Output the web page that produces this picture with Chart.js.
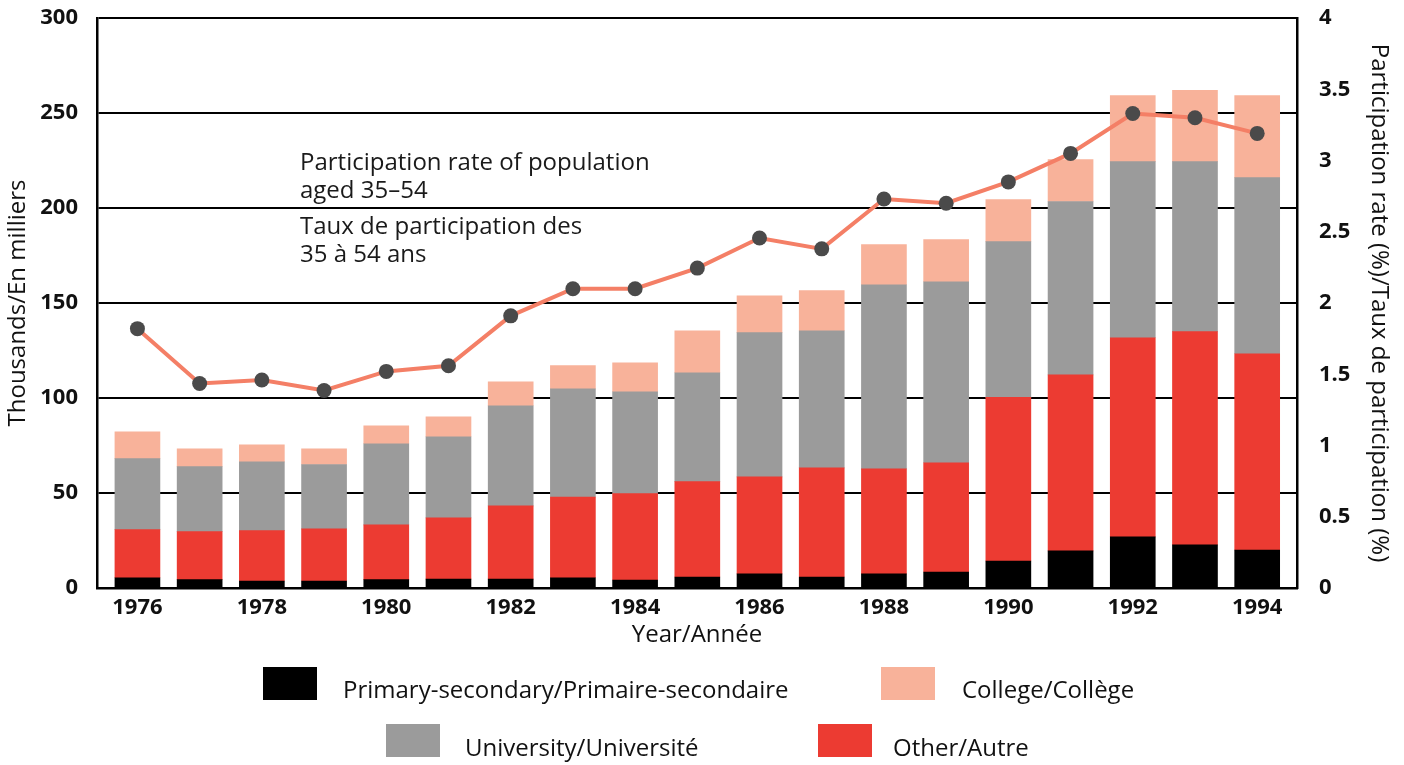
<!DOCTYPE html>
<html>
<head>
<meta charset="utf-8">
<script src="https://cdn.jsdelivr.net/npm/chart.js@4/dist/chart.umd.min.js"></script>
<style>
  html, body { margin: 0; padding: 0; background: #fff; }
  #wrap { position: relative; width: 1404px; height: 765px; overflow: hidden; }
  canvas { position: absolute; left: 0; top: 0; }
  .note { position: absolute; left: 300px; font-family: "Open Sans", sans-serif; font-size: 24px; color: #1a1a1a; line-height: 28px; white-space: nowrap; }
  .lg-box { position: absolute; width: 54px; height: 33px; }
  .lg-text { position: absolute; font-family: "Open Sans", sans-serif; font-size: 24px; color: #111; white-space: nowrap; line-height: 28px; }
</style>
</head>
<body>
<div id="wrap">
  <canvas id="c" width="1404" height="765"></canvas>
  <div class="note" style="top:147px">Participation rate of population<br>aged 35&#8211;54</div>
  <div class="note" style="top:211px">Taux de participation des<br>35 à 54 ans</div>
  <div id="legend"></div>
</div>
<script>
// ---- Data ----
const years = [1976,1977,1978,1979,1980,1981,1982,1983,1984,1985,1986,1987,1988,1989,1990,1991,1992,1993,1994];
const primarySecondary = [5.4,4.4,3.7,3.7,4.4,4.7,4.7,5.4,4.2,5.8,7.4,5.8,7.4,8.4,14.2,19.5,26.9,22.7,20.0];
const other = [25.3,25.3,26.5,27.4,28.8,32.2,38.5,42.5,45.5,50.2,51.1,57.4,55.3,57.5,86.1,92.7,104.8,112.2,103.3];
const university = [37.4,34.2,36.2,33.9,42.7,42.7,52.7,56.9,53.6,57.3,75.9,72.2,96.9,95.3,82.0,91.2,92.7,89.5,92.7];
const college = [14.1,9.3,8.9,8.2,9.5,10.5,12.6,12.2,15.2,22.1,19.4,21.1,21.1,22.2,22.1,22.1,34.8,37.5,43.2];
const participationRate = [1.82,1.435,1.46,1.386,1.52,1.56,1.91,2.10,2.10,2.245,2.456,2.38,2.73,2.70,2.85,3.05,3.33,3.30,3.19];
const xTickYears = [1976,1978,1980,1982,1984,1986,1988,1990,1992,1994];
const leftTicks = [0,50,100,150,200,250,300];
const rightTicks = [0,0.5,1,1.5,2,2.5,3,3.5,4];

const labels = {
  primary: "Primary-secondary/Primaire-secondaire",
  college: "College/Collège",
  university: "University/Université",
  other: "Other/Autre",
  rate: "Participation rate of population aged 35–54"
};
const colors = { primary: "#000000", other: "#ec3b32", university: "#9b9b9b", college: "#f8b29a", line: "#f47f66", point: "#4a4a4a" };

const toXY = arr => arr.map((v, i) => ({ x: years[i], y: v }));

const tickFont = { family: "'Open Sans', sans-serif", size: 22, weight: "bold" };
const titleFont = { family: "'Open Sans', sans-serif", size: 24, weight: "normal" };
const noPad = s => { s.paddingTop = 0; s.paddingBottom = 0; s.paddingLeft = 0; s.paddingRight = 0; };

const chart = new Chart(document.getElementById("c"), {
  type: "bar",
  data: {
    datasets: [
      { type: "line", label: labels.rate, data: toXY(participationRate), yAxisID: "y1", order: 0,
        borderColor: colors.line, borderWidth: 4, pointRadius: 7.5, pointHoverRadius: 7.5,
        pointBackgroundColor: colors.point, pointBorderColor: colors.point, pointBorderWidth: 0, tension: 0, fill: false },
      { label: labels.primary, key: "primary", data: toXY(primarySecondary), backgroundColor: colors.primary, yAxisID: "y", order: 1 },
      { label: labels.other, key: "other", data: toXY(other), backgroundColor: colors.other, yAxisID: "y", order: 1 },
      { label: labels.university, key: "university", data: toXY(university), backgroundColor: colors.university, yAxisID: "y", order: 1 },
      { label: labels.college, key: "college", data: toXY(college), backgroundColor: colors.college, yAxisID: "y", order: 1 }
    ]
  },
  options: {
    responsive: false,
    animation: false,
    devicePixelRatio: 1,
    layout: { padding: { left: 0, right: 0, top: 18, bottom: 115 } },
    datasets: { bar: { barThickness: 45, borderWidth: 0 } },
    plugins: { legend: { display: false }, tooltip: { enabled: false } },
    scales: {
      x: {
        type: "linear", min: 1975.35, max: 1994.64, stacked: true, offset: false,
        afterBuildTicks: s => { s.ticks = xTickYears.map(v => ({ value: v })); },
        afterFit: s => { s.height = 62; noPad(s); },
        grid: { display: false, drawTicks: false },
        border: { display: true, color: "#000", width: 2.5 },
        ticks: { font: tickFont, color: "#111", padding: 7, maxRotation: 0, autoSkip: false, callback: v => String(v) },
        title: { display: true, text: "Year/Année", font: titleFont, color: "#111", padding: { top: 0, bottom: 0 } }
      },
      y: {
        position: "left", stacked: true, min: 0, max: 300,
        afterBuildTicks: s => { s.ticks = leftTicks.map(v => ({ value: v })); },
        afterFit: s => { s.width = 97; noPad(s); },
        grid: { color: "#000", lineWidth: 2, drawTicks: false },
        border: { display: true, color: "#000", width: 2.5 },
        ticks: { font: tickFont, color: "#111", padding: 19, callback: v => String(v) },
        title: { display: true, text: "Thousands/En milliers", font: titleFont, color: "#111", padding: { top: 4, bottom: 0 } }
      },
      y1: {
        position: "right", min: 0, max: 4,
        afterBuildTicks: s => { s.ticks = rightTicks.map(v => ({ value: v })); },
        afterFit: s => { s.width = 107; noPad(s); },
        grid: { display: false, drawTicks: false },
        border: { display: true, color: "#000", width: 2.5 },
        ticks: { font: tickFont, color: "#111", padding: 22, callback: v => String(v) },
        title: { display: true, text: "Participation rate (%)/Taux de participation (%)", font: titleFont, color: "#111", padding: { top: 11, bottom: 0 } }
      }
    }
  }
});

// ---- HTML legend built from the chart's datasets ----
const legendPos = {
  primary:    { box: [263, 667], text: [343, 675] },
  college:    { box: [881, 667], text: [962, 675] },
  university: { box: [386, 724], text: [465, 733] },
  other:      { box: [818, 724], text: [893, 733] }
};
const lg = document.getElementById("legend");
chart.data.datasets.forEach(ds => {
  if (!ds.key) return;
  const p = legendPos[ds.key];
  const b = document.createElement("div");
  b.className = "lg-box";
  b.style.left = p.box[0] + "px"; b.style.top = p.box[1] + "px"; b.style.background = ds.backgroundColor;
  const t = document.createElement("div");
  t.className = "lg-text";
  t.style.left = p.text[0] + "px"; t.style.top = p.text[1] + "px"; t.textContent = ds.label;
  lg.appendChild(b); lg.appendChild(t);
});
</script>
</body>
</html>
